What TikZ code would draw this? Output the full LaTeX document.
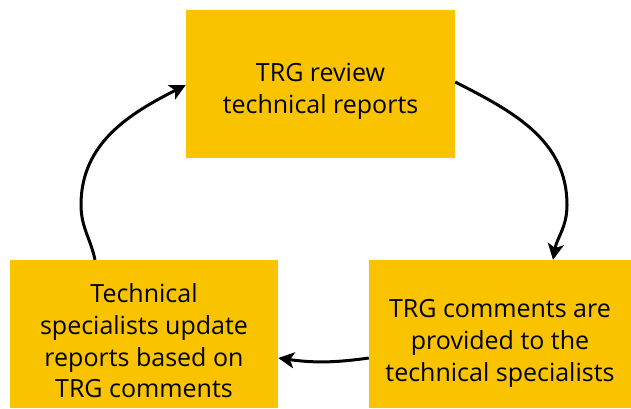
\documentclass[tikz,border=0pt]{standalone}
\usepackage{fontspec}
\setmainfont{Open Sans}
\usetikzlibrary{arrows.meta}
\definecolor{boxyellow}{RGB}{249,195,0}
\begin{document}
\begin{tikzpicture}[x=1pt,y=-1pt,
  stepbox/.style={fill=boxyellow, draw=none, inner sep=0pt, minimum height=148pt},
  steptext/.style={align=center, inner sep=0pt, text=black,
    font=\fontsize{25}{31.7}\selectfont},
  flow/.style={line width=3pt, -{Stealth[length=16pt,width=16pt,inset=4pt]}}]
\useasboundingbox (0,0) rectangle (631,408);
\node[stepbox, minimum width=269pt,
  label={[steptext, name=toptext, yshift=-7pt]center:{TRG review\\technical reports}}] (top) at (320.5,84) {};
\node[stepbox, minimum width=268pt,
  label={[steptext, name=lefttext, yshift=-7pt]center:{Technical\\specialists update\\reports based on\\TRG comments}}] (left) at (144,334) {};
\node[stepbox, minimum width=262pt,
  label={[steptext, name=righttext, yshift=-9.5pt]center:{TRG comments are\\provided to the\\technical specialists}}] (right) at (500,334) {};
\coordinate (rc) at (567,205);
\coordinate (lc) at (81,205);
\draw[flow] ([yshift=2pt]top.east) to[out=-27,in=90] (rc) to[out=-90,in=80] ([xshift=53pt]right.north);
\draw[flow] ([yshift=-24pt]right.west) to[bend left=8] ([yshift=-24pt]left.east);
\draw[flow] ([xshift=-49pt]left.north) to[out=102,in=-90] (lc) to[out=90,in=-153] ([yshift=-1pt]top.west);
\end{tikzpicture}
\end{document}
